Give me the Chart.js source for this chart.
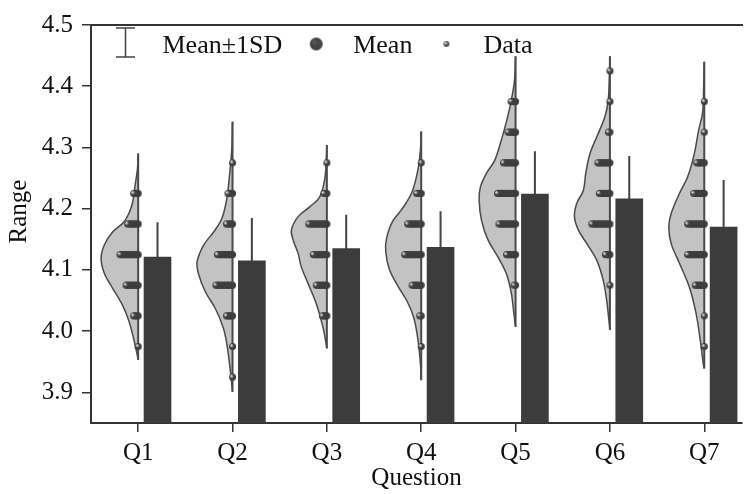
<!DOCTYPE html>
<html>
<head>
<meta charset="utf-8">
<script src="https://cdn.jsdelivr.net/npm/chart.js@4.4.1/dist/chart.umd.min.js"></script>
<style>
  html, body { margin: 0; padding: 0; background: #fff; }
</style>
</head>
<body>
<canvas id="chart" width="747" height="494"></canvas>
<script>
const questions = ["Q1", "Q2", "Q3", "Q4", "Q5", "Q6", "Q7"];
const means = [4.121, 4.115, 4.135, 4.137, 4.224, 4.216, 4.170];
const sds = [0.057, 0.070, 0.055, 0.059, 0.070, 0.070, 0.077];
const yTicks = [3.9, 4.0, 4.1, 4.2, 4.3, 4.4, 4.5];

// response levels and how many data points sit on each level
const levels = [4.425, 4.375, 4.325, 4.275, 4.225, 4.175, 4.125, 4.075, 4.025, 3.975, 3.925];
const countsQ1 = [0, 0, 0, 0, 4, 8, 13, 9, 4, 1, 0];
const countsQ2 = [0, 0, 0, 1, 4, 5, 11, 12, 5, 1, 1];
const countsQ3 = [0, 0, 0, 1, 3, 13, 10, 8, 4, 0, 0];
const countsQ4 = [0, 0, 0, 1, 4, 10, 12, 7, 2, 1, 0];
const countsQ5 = [0, 4, 6, 9, 13, 12, 7, 2, 0, 0, 0];
const countsQ6 = [1, 1, 2, 9, 8, 13, 4, 1, 0, 0, 0];
const countsQ7 = [0, 1, 1, 6, 8, 12, 12, 7, 1, 1, 0];

// half violin outlines: [value, density width]
const violinQ1 = [[4.290, 0], [4.266, 0.007], [4.239, 0.032], [4.206, 0.066], [4.179, 0.147], [4.162, 0.271], [4.141, 0.358], [4.119, 0.393], [4.094, 0.358], [4.070, 0.271], [4.042, 0.165], [4.015, 0.095], [3.977, 0.032], [3.953, 0]];
const violinQ2 = [[4.342, 0], [4.299, 0.007], [4.255, 0.032], [4.217, 0.06], [4.184, 0.113], [4.162, 0.2], [4.141, 0.305], [4.113, 0.376], [4.092, 0.358], [4.064, 0.287], [4.037, 0.182], [4.004, 0.095], [3.972, 0.053], [3.928, 0.018], [3.901, 0]];
const violinQ3 = [[4.304, 0], [4.279, 0.007], [4.247, 0.024], [4.219, 0.077], [4.203, 0.182], [4.187, 0.305], [4.165, 0.376], [4.149, 0.358], [4.127, 0.305], [4.105, 0.271], [4.078, 0.2], [4.045, 0.113], [4.007, 0.042], [3.972, 0]];
const violinQ4 = [[4.326, 0], [4.299, 0.007], [4.266, 0.032], [4.228, 0.095], [4.200, 0.2], [4.179, 0.305], [4.151, 0.368], [4.130, 0.376], [4.102, 0.34], [4.075, 0.253], [4.048, 0.147], [4.021, 0.077], [3.983, 0.032], [3.944, 0.007], [3.920, 0]];
const violinQ5 = [[4.449, 0], [4.410, 0.011], [4.377, 0.045], [4.345, 0.092], [4.312, 0.151], [4.279, 0.221], [4.258, 0.308], [4.236, 0.372], [4.214, 0.386], [4.181, 0.361], [4.149, 0.292], [4.121, 0.186], [4.094, 0.098], [4.062, 0.045], [4.029, 0.018], [4.007, 0]];
const violinQ6 = [[4.449, 0], [4.410, 0.007], [4.377, 0.018], [4.350, 0.053], [4.317, 0.14], [4.290, 0.211], [4.258, 0.256], [4.230, 0.281], [4.209, 0.351], [4.187, 0.376], [4.165, 0.334], [4.143, 0.245], [4.116, 0.14], [4.083, 0.071], [4.051, 0.035], [4.018, 0.011], [4.002, 0]];
const violinQ7 = [[4.440, 0], [4.394, 0.007], [4.356, 0.018], [4.328, 0.06], [4.290, 0.105], [4.252, 0.176], [4.225, 0.263], [4.192, 0.351], [4.170, 0.376], [4.143, 0.351], [4.111, 0.263], [4.072, 0.158], [4.029, 0.087], [3.985, 0.042], [3.947, 0.011], [3.939, 0]];

const dotCounts = [countsQ1, countsQ2, countsQ3, countsQ4, countsQ5, countsQ6, countsQ7];
const violins = [violinQ1, violinQ2, violinQ3, violinQ4, violinQ5, violinQ6, violinQ7];

const barShift = 0.205; // bars sit right of each violin
const dotStep = 0.016;  // stacked dots step left from the violin spine
const serif = "'Liberation Serif', 'Times New Roman', serif";

Chart.defaults.font.family = serif;
Chart.defaults.color = "#111";

function ball(r, light, dark) {
  const c = document.createElement("canvas");
  const s = Math.ceil(r * 2) + 2;
  c.width = c.height = s;
  const g = c.getContext("2d");
  const grad = g.createRadialGradient(s / 2 - r * 0.4, s / 2 - r * 0.4, r * 0.1, s / 2, s / 2, r);
  grad.addColorStop(0, light);
  grad.addColorStop(0.55, dark);
  grad.addColorStop(1, dark);
  g.fillStyle = grad;
  g.beginPath();
  g.arc(s / 2, s / 2, r, 0, Math.PI * 2);
  g.fill();
  return c;
}

const dotImg = ball(3.5, "#e6e6e6", "#3d3d3d");
const meanImg = ball(6.5, "#555", "#444");
const dataImg = ball(3, "#e6e6e6", "#555");

const dotPoints = [];
dotCounts.forEach((counts, i) => {
  counts.forEach((n, l) => {
    for (let k = 0; k < n; k++) {
      dotPoints.push({ x: i + 1 - k * dotStep, y: levels[l] });
    }
  });
});

const violinSets = violins.map((v, i) => ({
  type: "line",
  data: v.map(([val, w]) => ({ x: i + 1 - w, y: val })),
  fill: "shape",
  backgroundColor: "#c3c3c3",
  borderColor: "#4a4a4a",
  borderWidth: 1.5,
  tension: 0.35,
  pointRadius: 0,
  order: 6
}));

const spinePoints = [];
violins.forEach((v, i) => {
  spinePoints.push({ x: i + 1, y: v[0][0] }, { x: i + 1, y: v[v.length - 1][0] }, { x: i + 1, y: null });
});

const errPoints = [];
means.forEach((m, i) => {
  const x = i + 1 + barShift;
  errPoints.push({ x, y: m - sds[i] }, { x, y: m + sds[i] }, { x, y: null });
});

const legendItems = [
  { label: "Mean\u00b11SD", icon: "errorbar" },
  { label: "Mean", icon: meanImg },
  { label: "Data", icon: dataImg }
];

const insideLegend = {
  id: "insideLegend",
  afterDraw(chart) {
    const { ctx, chartArea } = chart;
    const top = chartArea.top;
    ctx.save();
    ctx.font = "26px " + serif;
    ctx.fillStyle = "#111";
    ctx.textBaseline = "alphabetic";
    let cx = chartArea.left + 34.5;
    legendItems.forEach(item => {
      if (item.icon === "errorbar") {
        ctx.strokeStyle = "#444";
        ctx.lineWidth = 1.5;
        ctx.beginPath();
        ctx.moveTo(cx, top + 3); ctx.lineTo(cx, top + 32);
        ctx.moveTo(cx - 9.5, top + 3); ctx.lineTo(cx + 9.5, top + 3);
        ctx.moveTo(cx - 9.5, top + 32); ctx.lineTo(cx + 9.5, top + 32);
        ctx.stroke();
      } else {
        ctx.drawImage(item.icon, cx - item.icon.width / 2, top + 19 - item.icon.height / 2);
      }
      const tx = cx + 37;
      ctx.fillText(item.label, tx, top + 27.5);
      cx = tx + ctx.measureText(item.label).width + 34;
    });
    ctx.restore();
  }
};

const ctx = document.getElementById("chart").getContext("2d");

new Chart(ctx, {
  type: "scatter",
  data: {
    datasets: [
      ...violinSets,
      {
        type: "line",
        data: spinePoints,
        borderColor: "#4a4a4a",
        borderWidth: 2,
        pointRadius: 0,
        order: 5
      },
      {
        type: "scatter",
        data: dotPoints,
        pointStyle: dotImg,
        pointRadius: 3.5,
        order: 4
      },
      {
        type: "line",
        data: errPoints,
        borderColor: "#444",
        borderWidth: 2,
        pointRadius: 0,
        order: 2
      },
      {
        type: "bar",
        data: means.map((m, i) => ({ x: i + 1 + barShift, y: m })),
        backgroundColor: "#3c3c3c",
        barThickness: 27,
        order: 1
      }
    ]
  },
  options: {
    responsive: false,
    animation: false,
    layout: { padding: 0 },
    plugins: {
      legend: { display: false },
      tooltip: { enabled: false }
    },
    scales: {
      x: {
        type: "linear",
        position: "bottom",
        min: 0.5,
        max: 7.4,
        offset: false,
        afterBuildTicks: s => { s.ticks = questions.map((q, i) => ({ value: i + 1 })); },
        afterFit: s => { s.height = 71; },
        ticks: {
          callback: v => questions[v - 1],
          font: { size: 25 },
          padding: 6,
          color: "#111"
        },
        grid: { offset: false, drawOnChartArea: false, tickLength: 9, color: "#333", lineWidth: 1.5 },
        border: { color: "#333", width: 2 },
        title: { display: true, text: "Question", font: { size: 25 }, padding: { top: 0, bottom: 1 }, color: "#111" }
      },
      x2: {
        type: "linear",
        position: "top",
        min: 0.5,
        max: 7.4,
        offset: false,
        afterFit: s => { s.height = 25; },
        ticks: { display: false },
        grid: { display: false },
        border: { display: true, color: "#333", width: 2 }
      },
      y: {
        type: "linear",
        min: 3.85,
        max: 4.5,
        afterBuildTicks: s => { s.ticks = yTicks.map(v => ({ value: v })); },
        afterFit: s => { s.width = 91; },
        ticks: {
          callback: v => v.toFixed(1),
          font: { size: 25 },
          padding: 9,
          color: "#111"
        },
        grid: { drawOnChartArea: false, tickLength: 9, color: "#333", lineWidth: 1.5 },
        border: { color: "#333", width: 2 },
        title: { display: true, text: "\u2003Range", font: { size: 25 }, padding: { top: 4, bottom: 0 }, color: "#111" }
      }
    }
  },
  plugins: [insideLegend]
});
</script>
</body>
</html>
